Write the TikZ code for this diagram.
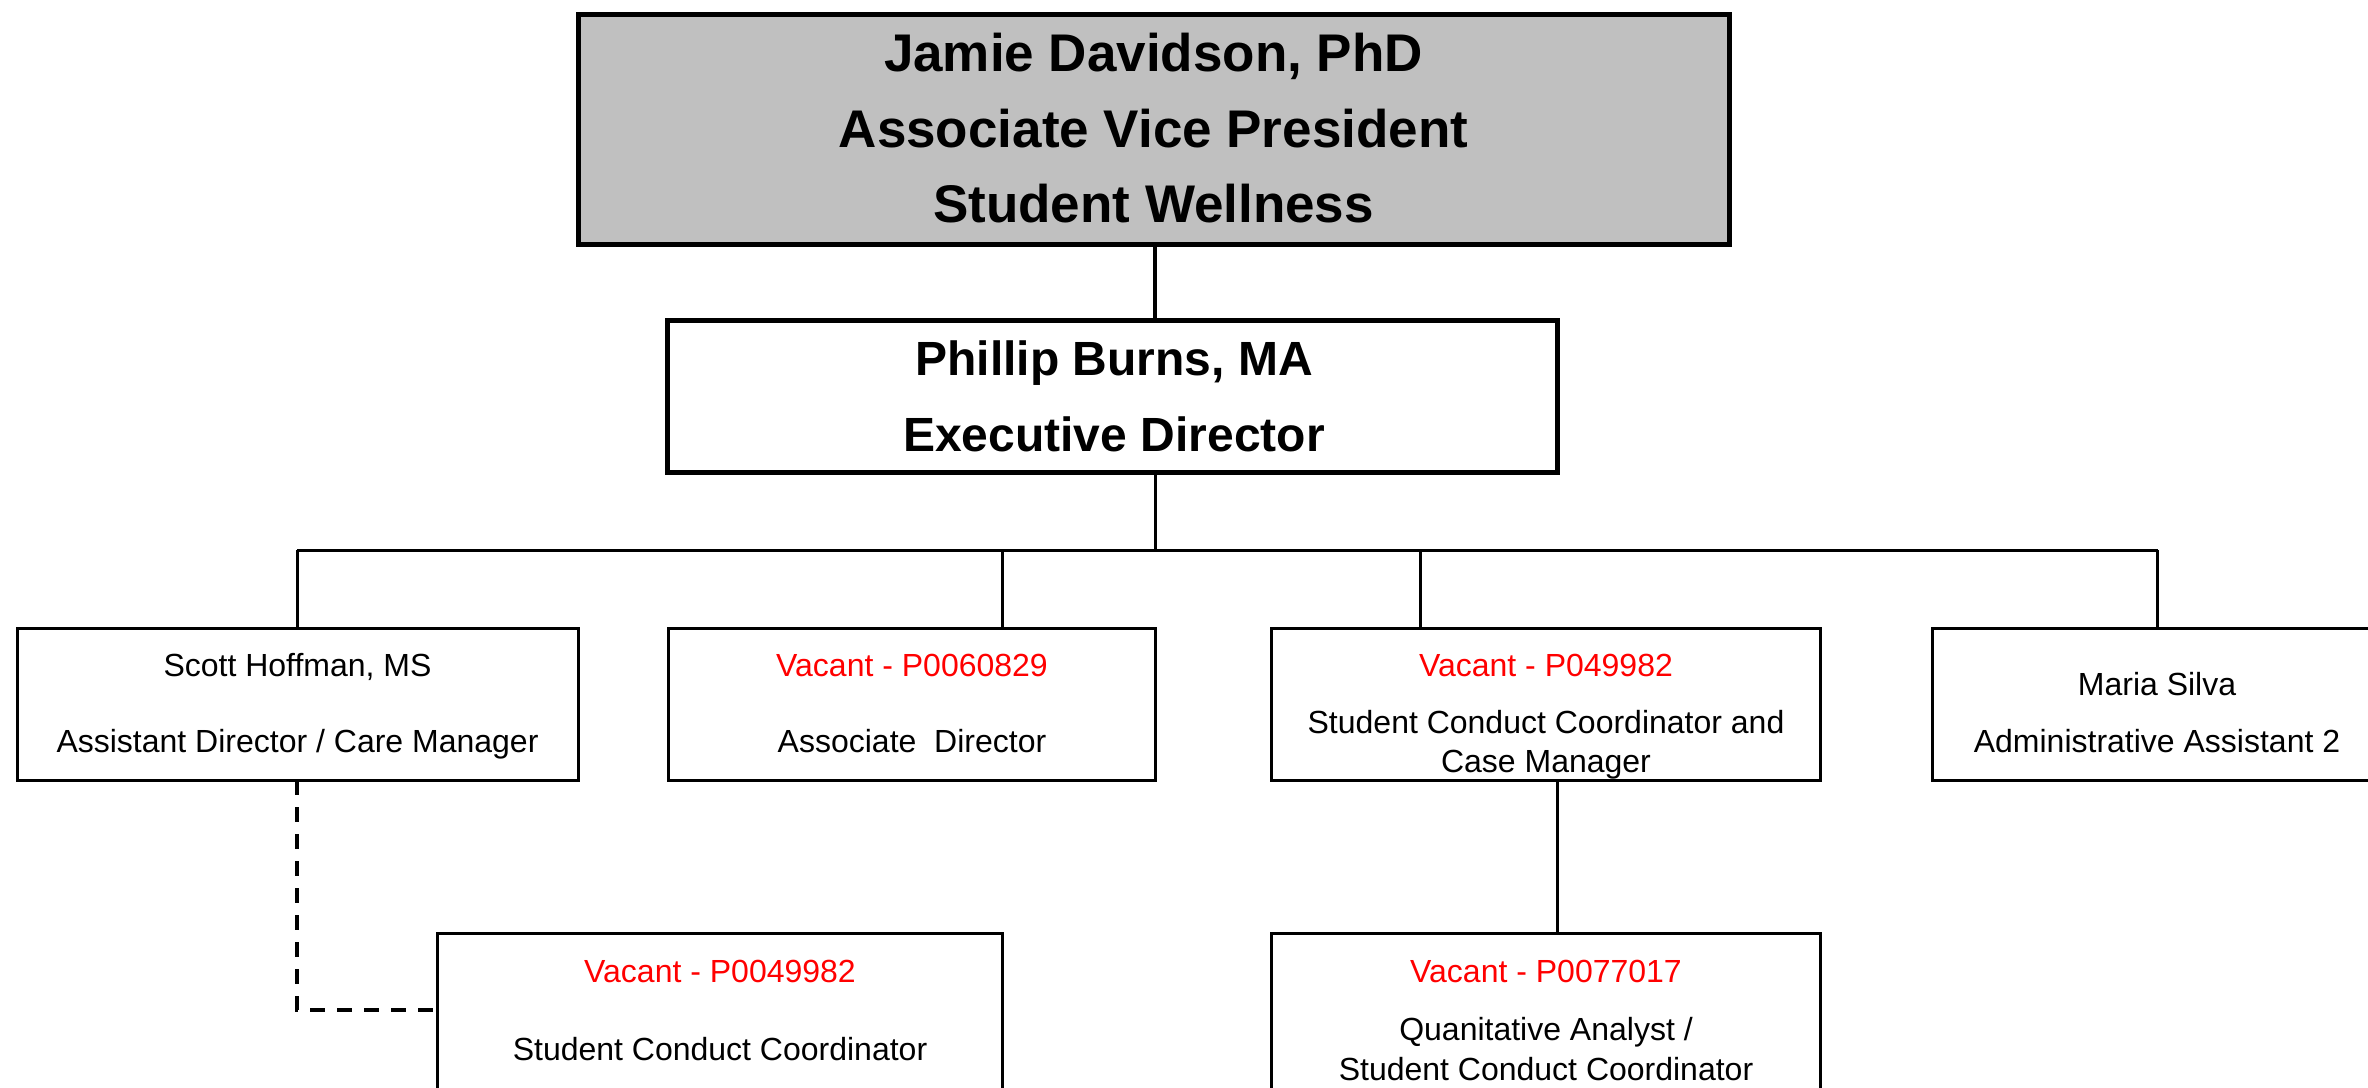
\documentclass[tikz,border=0pt]{standalone}
\usepackage{fontspec}
\setmainfont{Liberation Sans}
\newfontfamily\hbold{Liberation Sans}
\definecolor{boxgray}{HTML}{C0C0C0}
\definecolor{vacred}{HTML}{FF0000}
\tikzset{
  topbox/.style={draw=black, line width=5pt, fill=boxgray, rectangle, inner sep=0pt, outer sep=0pt},
  midbox/.style={draw=black, line width=5pt, fill=white, rectangle, inner sep=0pt, outer sep=0pt},
  staffbox/.style={draw=black, line width=3pt, fill=white, rectangle, inner sep=0pt, outer sep=0pt},
  bigtxt/.style={anchor=base, inner sep=0pt, font=\hbold\bfseries\fontsize{53}{60}\selectfont},
  midtxt/.style={anchor=base, inner sep=0pt, font=\hbold\bfseries\fontsize{48}{55}\selectfont},
  stafftxt/.style={anchor=base, inner sep=0pt, font=\fontsize{32}{38}\selectfont},
  vactxt/.style={stafftxt, text=vacred},
  conn/.style={draw=black, line width=3pt},
  topconn/.style={draw=black, line width=4.5pt},
  dotconn/.style={draw=black, line width=4.5pt, dash pattern=on 15pt off 12pt},
}
\begin{document}
\begin{tikzpicture}[x=1pt, y=-1pt]
\useasboundingbox (0,0) rectangle (2368,1087);
\clip (0,0) rectangle (2368,1087);
\fill[white] (0,0) rectangle (2368,1087);

% boxes
\node[topbox, minimum width=1151pt, minimum height=229.5pt] (avp) at (1153.5,129.25) {};
\node[midbox, minimum width=890pt, minimum height=151.5pt] (ed) at (1112,396.25) {};
\node[staffbox, minimum width=561pt, minimum height=152pt] (sh) at (297.5,704) {};
\node[staffbox, minimum width=487.6pt, minimum height=152pt] (ad) at (911.8,704) {};
\node[staffbox, minimum width=549.6pt, minimum height=152pt] (cm) at (1546,704) {};
\node[staffbox, minimum width=449pt, minimum height=152pt] (ms) at (2157,704) {};
\node[staffbox, minimum width=565.5pt, minimum height=200pt] (sc) at (719.75,1033) {};
\node[staffbox, minimum width=549.6pt, minimum height=200pt] (qa) at (1546,1033) {};

% connector coordinates
\coordinate (hub) at (1155,550);
\coordinate (busA) at (297,550);
\coordinate (busB) at (1002.5,550);
\coordinate (busC) at (1420,550);
\coordinate (busD) at (2157.5,550);
\coordinate (cfx) at (1557.5,0);
\coordinate (dsh) at (437,1010);

% connectors
\draw[topconn] (avp.south -| hub) -- (ed.north -| hub);
\draw[conn] (ed.south -| hub) -- (hub);
\draw[conn] (busA) -- (busD);
\draw[conn] (busA) -- (sh.north -| busA);
\draw[conn] (busB) -- (ad.north -| busB);
\draw[conn] (busC) -- (cm.north -| busC);
\draw[conn] (busD) -- (ms.north -| busD);
\draw[conn] (cm.south -| cfx) -- (qa.north -| cfx);
\draw[dotconn] (sh.south -| busA) |- (dsh);

% texts
\node[bigtxt] (t1) at (1153.5,71.5) {Jamie Davidson, PhD};
\node[bigtxt] (t2) at (1153.5,147.5) {Associate Vice President};
\node[bigtxt] (t3) at (1153.5,222.5) {Student Wellness};
\node[midtxt] (t4) at (1114,375) {Phillip Burns, MA};
\node[midtxt] (t5) at (1114,451.5) {Executive Director};

\node[stafftxt] (t6) at (297.5,676) {Scott Hoffman, MS};
\node[stafftxt] (t7) at (297.5,752.7) {Assistant Director / Care Manager};

\node[vactxt] (t8) at (912,676) {Vacant - P0060829};
\node[stafftxt] (t9) at (912,752.7) {Associate\ \ Director};

\node[vactxt] (t10) at (1546,676) {Vacant - P049982};
\node[stafftxt] (t11) at (1546,733) {Student Conduct Coordinator and};
\node[stafftxt] (t12) at (1546,772.7) {Case Manager};

\node[stafftxt] (t13) at (2157,695) {Maria Silva};
\node[stafftxt] (t14) at (2157,752.7) {Administrative Assistant 2};

\node[vactxt] (t15) at (720,982.7) {Vacant - P0049982};
\node[stafftxt] (t16) at (720,1060.7) {Student Conduct Coordinator};

\node[vactxt] (t17) at (1546,982.7) {Vacant - P0077017};
\node[stafftxt] (t18) at (1546,1040.7) {Quanitative Analyst /};
\node[stafftxt] (t19) at (1546,1080) {Student Conduct Coordinator};
\end{tikzpicture}
\end{document}
